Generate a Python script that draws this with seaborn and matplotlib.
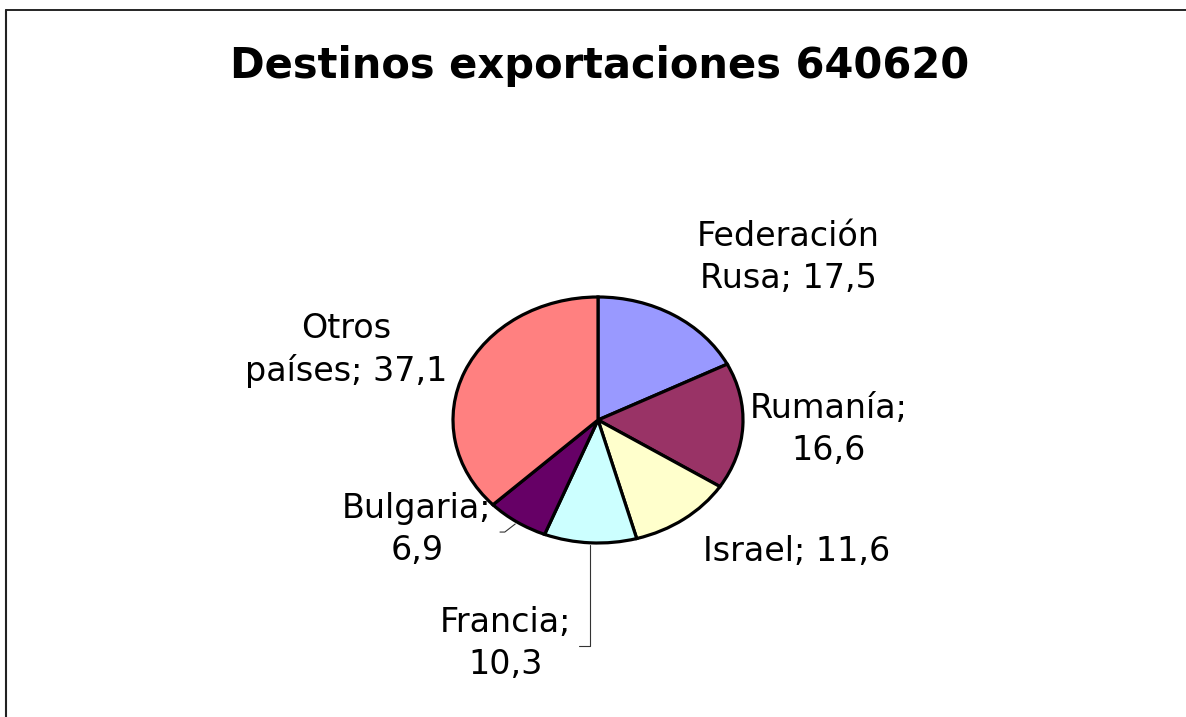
import matplotlib
matplotlib.use("Agg")
import matplotlib.pyplot as plt
import numpy as np
import seaborn as sns
from matplotlib.lines import Line2D

# Data (share of exports, %)
countries = ['Federación\nRusa', 'Rumanía', 'Israel', 'Francia', 'Bulgaria', 'Otros\npaíses']
shares = [17.5, 16.6, 11.6, 10.3, 6.9, 37.1]
# how the value is joined to the name in each data label
joiners = ['; ', ';\n', '; ', ';\n', ';\n', '; ']

colors = sns.color_palette(['#9999FF', '#993366', '#FFFFCC', '#CCFFFF', '#660066', '#FF8080'])

# label anchors (in pie radius units) and leader line elbows (y, end x)
label_pos = [(1.31, 1.32), (1.59, -0.08), (1.37, -1.07), (-0.64, -1.82), (-1.25, -0.89), (-1.74, 0.57)]
leaders = {3: (-1.837, -0.13), 4: (-0.911, -0.676)}

sns.set_theme(style="white")
plt.rcParams['font.family'] = ['DejaVu Sans']
plt.rcParams['text.color'] = 'black'

W, H = 1186, 717
fig = plt.figure(figsize=(W / 100, H / 100), dpi=100)
ax = fig.add_axes([0, 0, 1, 1])

wedges, _ = ax.pie(shares, colors=colors, startangle=90, counterclock=False,
                   wedgeprops=dict(edgecolor='black', linewidth=2.3))

# squash the pie into an ellipse: 145 px per unit across, 123 px per unit down
cx, cy, rx, ry = 598, 420, 145, 123
ax.set_aspect('auto')
ax.set_xlim(-cx / rx, (W - cx) / rx)
ax.set_ylim(-(H - cy) / ry, cy / ry)
ax.axis('off')

cum = np.cumsum([0] + shares[:-1])
for i, (name, val, sep) in enumerate(zip(countries, shares, joiners)):
    txt = f"{name}{sep}{val:.1f}".replace('.', ',')
    x, y = label_pos[i]
    ax.text(x, y, txt, ha='center', va='center', fontsize=24, color='black',
            linespacing=1.35, multialignment='center')
    if i in leaders:
        mid = np.deg2rad(90 - (cum[i] + val / 2) * 3.6)
        sx, sy = 1.02 * np.cos(mid), 1.02 * np.sin(mid)
        ey, ex = leaders[i]
        if i == 3:
            xs, ys = [sx, sx, ex], [sy, ey, ey]   # straight down, then left
        else:
            ex2 = sx - (sy - ey) * 1.1
            xs, ys = [sx, ex2, ex], [sy, ey, ey]  # diagonal, then left
        ax.plot(xs, ys, color='#333333', lw=0.8, clip_on=False)

fig.text(600 / W, 1 - 78 / H, 'Destinos exportaciones 640620', ha='center',
         va='baseline', fontsize=30, fontweight='bold', color='black')

# chart area border (top and left edges visible in the crop)
fig.add_artist(Line2D([6 / W, 1], [1 - 10 / H, 1 - 10 / H], color='black', lw=1.2))
fig.add_artist(Line2D([6 / W, 6 / W], [0, 1 - 10 / H], color='#222222', lw=1.5))

fig.savefig('out.png', dpi=100)
